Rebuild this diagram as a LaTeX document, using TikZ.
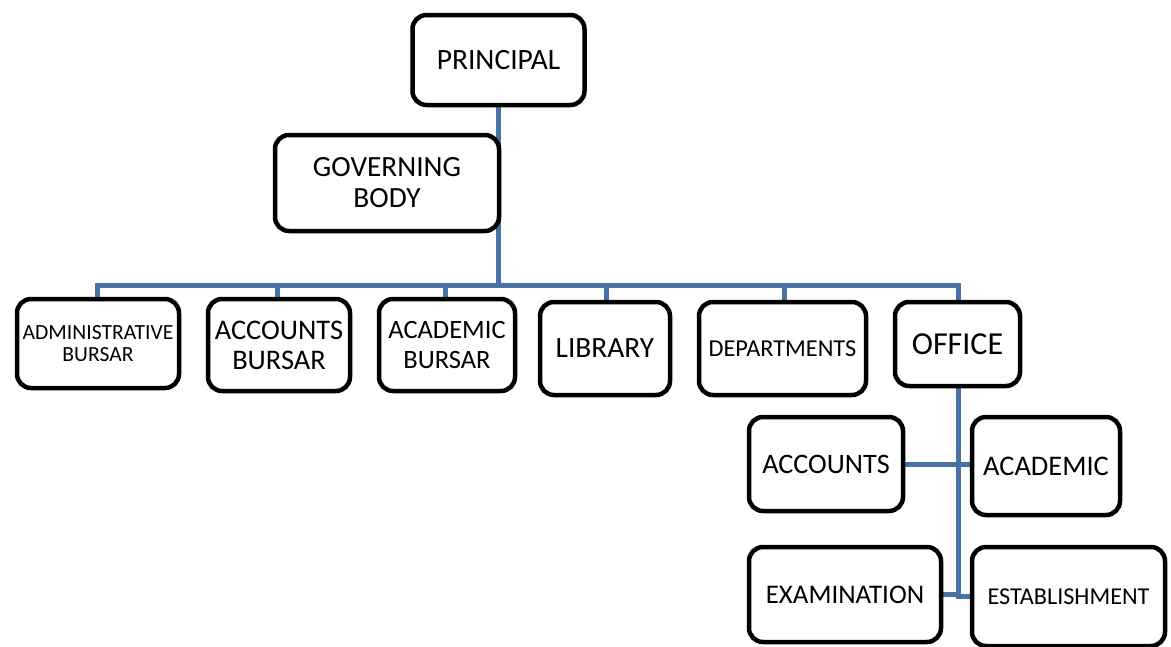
\documentclass[tikz,border=0pt]{standalone}
\usepackage{fontspec}
\setmainfont{Carlito}
\usetikzlibrary{backgrounds}
\definecolor{linkblue}{RGB}{70,114,166}
\tikzset{
  orgbox/.style={draw=black, line width=4.5pt, rounded corners=14pt, fill=white, align=center, inner sep=2pt},
  link/.style={draw=linkblue, line width=5pt}
}
\newcommand{\fs}[2]{\fontsize{#1}{#2}\selectfont}
\begin{document}
\begin{tikzpicture}[x=1pt,y=-1pt]
\useasboundingbox (0,0) rectangle (1171,646);
\node[orgbox, minimum width=172pt, minimum height=90pt, font=\fs{29.5}{32}] (principal) at (498.5,60) {PRINCIPAL};
\node[orgbox, minimum width=224pt, minimum height=96pt, font=\fs{29.3}{31}] (gov) at (387,183) {GOVERNING\\BODY};
\node[orgbox, minimum width=162pt, minimum height=89pt, font=\fs{21.6}{22}] (admin) at (98,343.5) {ADMINISTRATIVE\\BURSAR};
\node[orgbox, minimum width=142pt, minimum height=92pt, font=\fs{28.4}{30}] (accb) at (279,345) {ACCOUNTS\\BURSAR};
\node[orgbox, minimum width=136pt, minimum height=92pt, font=\fs{26.5}{30}] (acab) at (447,345) {ACADEMIC\\BURSAR};
\node[orgbox, minimum width=130pt, minimum height=93pt, font=\fs{29.4}{32}] (lib) at (605,348.5) {LIBRARY};
\node[orgbox, minimum width=167pt, minimum height=93pt, font=\fs{24.3}{26}] (dept) at (782.5,348.5) {DEPARTMENTS};
\node[orgbox, minimum width=125pt, minimum height=84pt, font=\fs{32}{34}] (office) at (957.5,344) {OFFICE};
\node[orgbox, minimum width=154pt, minimum height=94pt, font=\fs{28.2}{30}] (acc) at (826,464) {ACCOUNTS};
\node[orgbox, minimum width=148pt, minimum height=98pt, font=\fs{28.4}{30}] (aca) at (1046,466) {ACADEMIC};
\node[orgbox, minimum width=192pt, minimum height=95pt, font=\fs{26.9}{28}] (exam) at (845,594.5) {EXAMINATION};
\node[orgbox, minimum width=193pt, minimum height=99pt, font=\fs{24.2}{26}] (estab) at (1068.5,596.5) {ESTABLISHMENT};
\coordinate (busleft) at (97,285);
\coordinate (busright) at (958,285);
\coordinate (bustop) at (498,285);
\begin{pgfonlayer}{background}
\draw[link] (principal.south -| bustop) -- (bustop);
\draw[link] (busleft |- admin.north) -- (busleft) -- (busright) -- (busright |- office.north);
\foreach \x in {277, 445, 606, 784} {
  \draw[link] (\x,285) -- (\x,300);
}
\draw[link] (office.south -| busright) -- (busright |- estab.west) -- (estab.west);
\draw[link] (acc.east) -- (acc.east -| aca.west);
\draw[link] (exam.east) -- (exam.east -| busright);
\end{pgfonlayer}
\end{tikzpicture}
\end{document}
